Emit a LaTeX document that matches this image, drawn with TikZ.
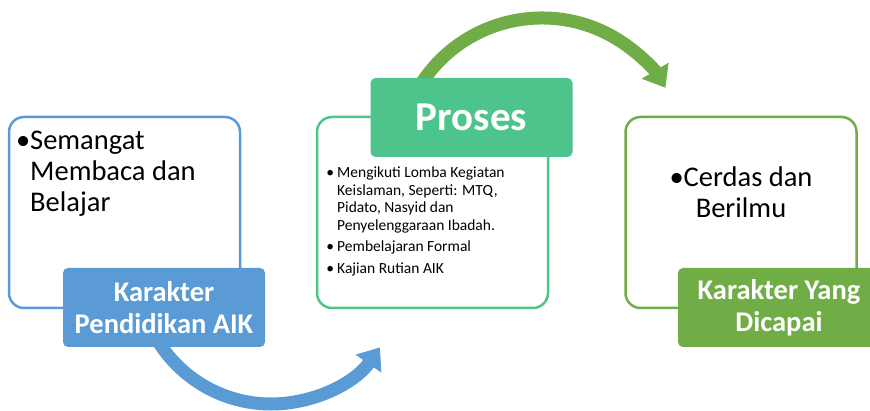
\documentclass[tikz,border=0pt]{standalone}
\usepackage{fontspec}
\setmainfont{Carlito}
\usepackage{tikz}
\usetikzlibrary{positioning}
\usetikzlibrary{arrows.meta}
\pgfdeclarelayer{background}
\pgfdeclarelayer{foreground}
\pgfsetlayers{background,main,foreground}

\definecolor{biruK}{HTML}{5B9BD5}
\definecolor{hijauP}{HTML}{4DC48C}
\definecolor{hijauC}{HTML}{70AD47}

\begin{document}
\begin{tikzpicture}[x=1pt,y=-1pt,
		kotak/.style={draw,line width=2.5pt,rounded corners=15pt,fill=white,minimum width=231pt,minimum height=191pt,inner sep=0pt},
		judul/.style={rounded corners=5pt,minimum width=202pt,minimum height=79pt,inner sep=0pt,text=white,align=center,font=\bfseries\fontsize{28.5}{32}\selectfont},
		isi/.style={inner sep=0pt,align=left,font=\fontsize{28.5}{31}\selectfont},
		panah/.style={line width=13pt,-{Triangle[width=30pt,length=20pt]}}]
				\useasboundingbox (0,0) rectangle (870,411);
				\clip (0,0) rectangle (870,411);
				%Boxes
				\node[kotak,draw=biruK]  (k1) at (124.5,212.5) {};
				\node[kotak,draw=hijauP] (k2) at (432.5,212.5) {};
				\node[kotak,draw=hijauC] (k3) at (741,212.5) {};

				%Texts (anchored at the last line)
				\node[isi,anchor=base west] (t1) at (30,212) {\llap{\textbullet}Semangat\\Membaca dan\\Belajar};
				\node[isi,anchor=base west,font=\fontsize{15.5}{17.5}\selectfont] (t2) at (337,273.5)
					{\llap{\textbullet\hspace{3pt}}Mengikuti Lomba Kegiatan\\Keislaman, Seperti: MTQ,\\Pidato, Nasyid dan\\Penyelenggaraan Ibadah.\\[4pt]
					 \llap{\textbullet\hspace{3pt}}Pembelajaran Formal\\[4pt]
					 \llap{\textbullet\hspace{3pt}}Kajian Rutian AIK};
				\node[isi,anchor=base,align=center] (t3) at (741,218) {\textbullet Cerdas dan\\Berilmu};

				%Labels
				\node[judul,fill=biruK]  (l1) at (164,307.5) {Karakter\\Pendidikan AIK};
				\node[judul,fill=hijauP,font=\bfseries\fontsize{41}{44}\selectfont] (l2) at (471.5,117.5) {Proses};
				\node[judul,fill=hijauC] (l3) at (779,307.5) {Karakter Yang\\Dicapai};

				%Arrows
				\begin{pgfonlayer}{background}
				\coordinate (pusatB) at (271,271);
				\coordinate (pusatH) at (542,162);
				\draw[panah,biruK] (pusatB) ++(210:133pt) arc[start angle=210,end angle=325,radius=133pt];
				\draw[panah,hijauC] (pusatH) ++(147:144pt) arc[start angle=147,end angle=31,radius=144pt];
				\end{pgfonlayer}
\end{tikzpicture}
\end{document}
